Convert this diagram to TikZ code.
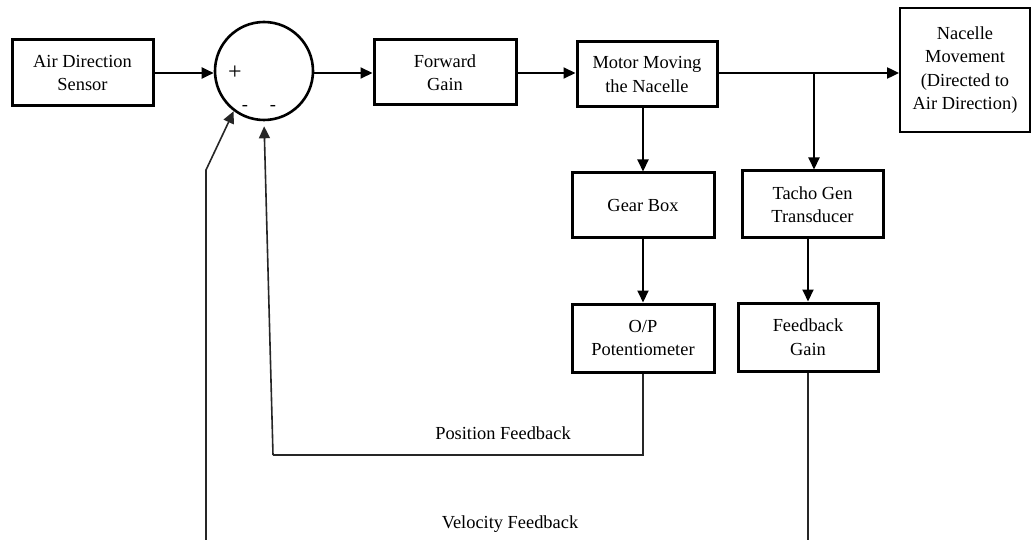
\documentclass[tikz,border=0pt]{standalone}
\usepackage{fontspec}
\setmainfont{Liberation Serif}
\usetikzlibrary{arrows.meta}
\begin{document}
\begin{tikzpicture}[x=1pt,y=-1pt,
  font=\fontsize{18.4}{23.5}\selectfont,
  blk/.style={draw=black, line width=3pt, rectangle, inner sep=0pt, align=center},
  outblk/.style={draw=black, line width=1.8pt, rectangle, inner sep=0pt, align=center},
  sumnode/.style={draw=black, line width=2.6pt, circle, minimum size=98pt, inner sep=0pt},
  conn/.style={line width=2pt, -{Triangle[length=12pt,width=11pt]}},
  fb/.style={line width=1.6pt, draw=black!85},
  fbarrow/.style={line width=1.6pt, draw=black!85, -{Triangle[length=12pt,width=11pt]}},
  lbl/.style={inner sep=0pt}
]
\useasboundingbox (0,0) rectangle (1031,540);
\fill[white] (0,0) rectangle (1031,540);

\node[blk, minimum width=141pt, minimum height=66pt] (ads) at (82.5,73) {Air Direction\\Sensor};
\node[sumnode] (sum) at (264,71) {};
\node[lbl, font=\fontsize{24}{26}\selectfont] (plus) at (235,73) {+};
\node[lbl] (m1) at (245,108) {-};
\node[lbl] (m2) at (273,108) {-};
\node[blk, minimum width=142pt, minimum height=65pt] (fg) at (445,72.5) {Forward\\Gain};
\node[blk, minimum width=140pt, minimum height=65pt] (motor) at (647,74.5) {Motor Moving\\the Nacelle};
\node[outblk, minimum width=130pt, minimum height=124pt] (nac) at (965,70) {Nacelle\\Movement\\(Directed to\\Air Direction)};
\node[blk, minimum width=142pt, minimum height=65pt] (gear) at (643,205.5) {Gear Box};
\node[blk, minimum width=141pt, minimum height=67pt] (tacho) at (812.5,204.5) {Tacho Gen\\Transducer};
\node[blk, minimum width=142pt, minimum height=68pt] (op) at (643,338) {O/P\\Potentiometer};
\node[blk, minimum width=140pt, minimum height=68pt] (fbg) at (808,337) {Feedback\\Gain};

\node[lbl] (posl) at (503,433) {Position Feedback};
\node[lbl] (vell) at (510,524) {Velocity Feedback};

\coordinate (br) at (814,73);
\coordinate (pc1) at (643,455);
\coordinate (pc2) at (273,455);
\coordinate (vl) at (206,540);
\coordinate (vk) at (206,170);
\coordinate (vr) at (808,540);

\draw[conn] (ads.east |- 0,73) -- (sum.west |- 0,73);
\draw[conn] (sum.east |- 0,73) -- (fg.west |- 0,73);
\draw[conn] (fg.east |- 0,73) -- (motor.west |- 0,73);
\draw[conn] (motor.east |- br) -- (nac.west |- br);
\draw[conn] (br) -- (br |- tacho.north);
\draw[conn] (gear.north |- motor.south) -- (gear.north);
\draw[conn] (gear.south) -- (op.north);
\draw[conn] (fbg.north |- tacho.south) -- (fbg.north);

\draw[fb] (op.south) -- (pc1) -- (pc2);
\draw[fbarrow, shorten >=5pt] (pc2) -- (sum.south);
\draw[fb] (fbg.south) -- (vr);
\draw[fbarrow] (vl) -- (vk) -- (sum.233);
\end{tikzpicture}
\end{document}
